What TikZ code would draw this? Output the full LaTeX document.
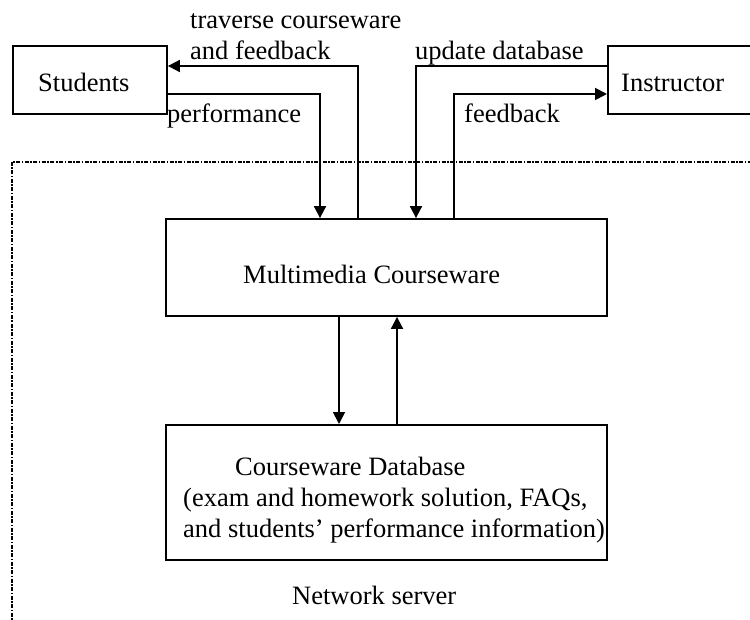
\documentclass[tikz,border=0pt]{standalone}
\usepackage{fontspec}
\setmainfont{Liberation Serif}
\usetikzlibrary{arrows.meta,positioning}

\begin{document}
\begin{tikzpicture}[
  x=1pt, y=-1pt,
  font=\fontsize{26.5}{31}\selectfont,
  box/.style={draw, line width=1.8pt, inner sep=0pt},
  txt/.style={inner sep=0pt, anchor=base west, align=left},
  arr/.style={-{Triangle[length=12pt, width=12pt]}, line width=1.8pt},
  frame/.style={line width=1.8pt, dash pattern=on 4pt off 1.5pt on 1.5pt off 1.5pt}
]
\useasboundingbox (0,0) rectangle (750,620);

% network server frame (runs off right and bottom)
\draw[frame] (760,162) -- (12,162) -- (12,630);

% boxes
\node[box, minimum width=154pt, minimum height=68pt] (students) at (90,80) {};
\node[box, minimum width=160pt, minimum height=68pt, anchor=west] (instructor) at (607,80) {};
\node[box, minimum width=441pt, minimum height=97pt] (mc) at (386.5,267.5) {};
\node[box, minimum width=441pt, minimum height=135pt, anchor=north] (db) at (386.5,424) {};

% box texts (base = last line)
\node[txt] (lstudents) at (38,92) {Students};
\node[txt] (linstructor) at (621,92) {Instructor};
\node[txt] (lmc) at (243,284) {Multimedia Courseware};
\node[txt] (ldb) at (183,537) {\hspace*{52pt}Courseware Database\\(exam and homework solution, FAQs,\\and students' performance information)};
\node[txt] (lserver) at (292,604) {Network server};

% connector labels
\node[txt] (ltraverse) at (190,60) {traverse courseware\\and feedback};
\node[txt] (lperf) at (167,123) {performance};
\node[txt] (lupdate) at (415,60) {update database};
\node[txt] (lfeed) at (464,123) {feedback};

% connectors
\draw[arr] ([yshift=-14pt]students.east) -| ([xshift=-66.5pt]mc.north);
\draw[arr] ([xshift=-28.5pt]mc.north) |- ([yshift=14pt]students.east);
\draw[arr] ([yshift=14pt]instructor.west) -| ([xshift=29.5pt]mc.north);
\draw[arr] ([xshift=67.5pt]mc.north) |- ([yshift=-14pt]instructor.west);
\draw[arr] ([xshift=-47.5pt]mc.south) -- ([xshift=-47.5pt]db.north);
\draw[arr] ([xshift=10.5pt]db.north) -- ([xshift=10.5pt]mc.south);
\end{tikzpicture}
\end{document}
